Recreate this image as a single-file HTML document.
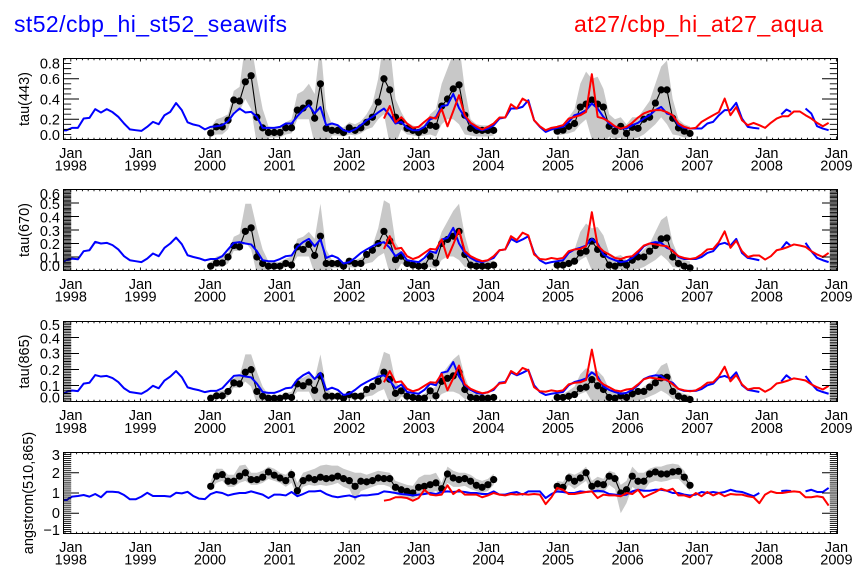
<!DOCTYPE html>
<html><head><meta charset="utf-8">
<style>
html,body{margin:0;padding:0;background:#fff;}
svg{display:block;}
text{font-family:"Liberation Sans",Arial,sans-serif;fill:#000;}
</style></head>
<body>
<svg id="s" width="867" height="580" viewBox="0 0 867 580" xmlns="http://www.w3.org/2000/svg">
<defs>
<clipPath id="c0"><rect x="63.5" y="58.5" width="774" height="81"/></clipPath>
<clipPath id="c1"><rect x="63.5" y="189.5" width="774" height="81"/></clipPath>
<clipPath id="c2"><rect x="63.5" y="321.5" width="774" height="80"/></clipPath>
<clipPath id="c3"><rect x="63.5" y="452.5" width="774" height="81"/></clipPath>
</defs>
<rect width="867" height="580" fill="#fff"/>
<text x="14" y="32" font-size="23" style="fill:#0000ff" textLength="273" lengthAdjust="spacing">st52/cbp_hi_st52_seawifs</text>
<text x="574" y="32" font-size="23" style="fill:#ff0000" textLength="249" lengthAdjust="spacing">at27/cbp_hi_at27_aqua</text>

<g id="plots"></g>

<!-- Y titles -->
<text transform="translate(28.8,99) rotate(-90)" text-anchor="middle" font-size="14.5">tau(443)</text>
<text transform="translate(28.8,230) rotate(-90)" text-anchor="middle" font-size="14.5">tau(670)</text>
<text transform="translate(28.8,361.5) rotate(-90)" text-anchor="middle" font-size="14.5">tau(865)</text>
<text transform="translate(33.2,493) rotate(-90)" text-anchor="middle" font-size="14.5">angstrom(510,865)</text>

<!-- Y tick labels -->
<g font-size="14.5" text-anchor="end">
<text x="60" y="68.4">0.8</text>
<text x="60" y="84.2">0.6</text>
<text x="60" y="104.4">0.4</text>
<text x="60" y="124.3">0.2</text>
<text x="60" y="139.8">0.0</text>

<text x="60" y="199.2">0.6</text>
<text x="60" y="209.2">0.5</text>
<text x="60" y="222.5">0.4</text>
<text x="60" y="235.9">0.3</text>
<text x="60" y="249.2">0.2</text>
<text x="60" y="262.5">0.1</text>
<text x="60" y="271.2">0.0</text>

<text x="60" y="330.2">0.5</text>
<text x="60" y="343.5">0.4</text>
<text x="60" y="358.5">0.3</text>
<text x="60" y="375.2">0.2</text>
<text x="60" y="391.2">0.1</text>
<text x="60" y="402.5">0.0</text>

<text x="60" y="460.2">3</text>
<text x="60" y="477.9">2</text>
<text x="60" y="497.9">1</text>
<text x="60" y="517.9">0</text>
<text x="60" y="535.2">−1</text>
</g>

<!-- X tick labels -->
<g font-size="14.5" text-anchor="middle">
<g>
<text x="70.8" y="157.8">Jan</text><text x="70.8" y="170.5">1998</text>
<text x="140.4" y="157.8">Jan</text><text x="140.4" y="170.5">1999</text>
<text x="210.0" y="157.8">Jan</text><text x="210.0" y="170.5">2000</text>
<text x="279.6" y="157.8">Jan</text><text x="279.6" y="170.5">2001</text>
<text x="349.2" y="157.8">Jan</text><text x="349.2" y="170.5">2002</text>
<text x="418.8" y="157.8">Jan</text><text x="418.8" y="170.5">2003</text>
<text x="488.4" y="157.8">Jan</text><text x="488.4" y="170.5">2004</text>
<text x="558.0" y="157.8">Jan</text><text x="558.0" y="170.5">2005</text>
<text x="627.6" y="157.8">Jan</text><text x="627.6" y="170.5">2006</text>
<text x="697.2" y="157.8">Jan</text><text x="697.2" y="170.5">2007</text>
<text x="766.8" y="157.8">Jan</text><text x="766.8" y="170.5">2008</text>
<text x="836.4" y="157.8">Jan</text><text x="836.4" y="170.5">2009</text>
</g>
<g transform="translate(0,131)">
<text x="70.8" y="157.8">Jan</text><text x="70.8" y="170.5">1998</text>
<text x="140.4" y="157.8">Jan</text><text x="140.4" y="170.5">1999</text>
<text x="210.0" y="157.8">Jan</text><text x="210.0" y="170.5">2000</text>
<text x="279.6" y="157.8">Jan</text><text x="279.6" y="170.5">2001</text>
<text x="349.2" y="157.8">Jan</text><text x="349.2" y="170.5">2002</text>
<text x="418.8" y="157.8">Jan</text><text x="418.8" y="170.5">2003</text>
<text x="488.4" y="157.8">Jan</text><text x="488.4" y="170.5">2004</text>
<text x="558.0" y="157.8">Jan</text><text x="558.0" y="170.5">2005</text>
<text x="627.6" y="157.8">Jan</text><text x="627.6" y="170.5">2006</text>
<text x="697.2" y="157.8">Jan</text><text x="697.2" y="170.5">2007</text>
<text x="766.8" y="157.8">Jan</text><text x="766.8" y="170.5">2008</text>
<text x="836.4" y="157.8">Jan</text><text x="836.4" y="170.5">2009</text>
</g>
<g transform="translate(0,262.3)">
<text x="70.8" y="157.8">Jan</text><text x="70.8" y="170.5">1998</text>
<text x="140.4" y="157.8">Jan</text><text x="140.4" y="170.5">1999</text>
<text x="210.0" y="157.8">Jan</text><text x="210.0" y="170.5">2000</text>
<text x="279.6" y="157.8">Jan</text><text x="279.6" y="170.5">2001</text>
<text x="349.2" y="157.8">Jan</text><text x="349.2" y="170.5">2002</text>
<text x="418.8" y="157.8">Jan</text><text x="418.8" y="170.5">2003</text>
<text x="488.4" y="157.8">Jan</text><text x="488.4" y="170.5">2004</text>
<text x="558.0" y="157.8">Jan</text><text x="558.0" y="170.5">2005</text>
<text x="627.6" y="157.8">Jan</text><text x="627.6" y="170.5">2006</text>
<text x="697.2" y="157.8">Jan</text><text x="697.2" y="170.5">2007</text>
<text x="766.8" y="157.8">Jan</text><text x="766.8" y="170.5">2008</text>
<text x="836.4" y="157.8">Jan</text><text x="836.4" y="170.5">2009</text>
</g>
<g transform="translate(0,394)">
<text x="70.8" y="157.8">Jan</text><text x="70.8" y="170.5">1998</text>
<text x="140.4" y="157.8">Jan</text><text x="140.4" y="170.5">1999</text>
<text x="210.0" y="157.8">Jan</text><text x="210.0" y="170.5">2000</text>
<text x="279.6" y="157.8">Jan</text><text x="279.6" y="170.5">2001</text>
<text x="349.2" y="157.8">Jan</text><text x="349.2" y="170.5">2002</text>
<text x="418.8" y="157.8">Jan</text><text x="418.8" y="170.5">2003</text>
<text x="488.4" y="157.8">Jan</text><text x="488.4" y="170.5">2004</text>
<text x="558.0" y="157.8">Jan</text><text x="558.0" y="170.5">2005</text>
<text x="627.6" y="157.8">Jan</text><text x="627.6" y="170.5">2006</text>
<text x="697.2" y="157.8">Jan</text><text x="697.2" y="170.5">2007</text>
<text x="766.8" y="157.8">Jan</text><text x="766.8" y="170.5">2008</text>
<text x="836.4" y="157.8">Jan</text><text x="836.4" y="170.5">2009</text>
</g>
</g>
</svg>

<script>
(function(){
var NS="http://www.w3.org/2000/svg";
var G=document.getElementById('plots');
var L=63.5,R=837.5;
var panels=[
 {t:58.5,b:139.5,mn:0,mx:0.8,maj:0.2,mi:0.05},
 {t:189.5,b:270.5,mn:0,mx:0.6,maj:0.1,mi:0.01},
 {t:321.5,b:401.5,mn:0,mx:0.5,maj:0.1,mi:0.01},
 {t:452.5,b:533.5,mn:-1,mx:3,maj:1,mi:0.1}];
function X(m){return 72.1+5.775*m;}
function Y(v,P){return P.b-(v-P.mn)/(P.mx-P.mn)*(P.b-P.t);}
function el(tag,a,par){var e=document.createElementNS(NS,tag);for(var k in a)e.setAttribute(k,a[k]);(par||G).appendChild(e);return e;}
function seq(s,arr){return arr.map(function(v,i){return [s+i,v];});}
function sc(arr,f){return arr.map(function(v){return v*f;});}
function scs(ser,f){return ser.map(function(p){return p?[p[0],p[1]*f]:null;});}
function pathD(pts,P){var d='',pen=false;for(var i=0;i<pts.length;i++){var p=pts[i];if(!p){pen=false;continue;}d+=(pen?'L':'M')+X(p[0]).toFixed(2)+' '+Y(p[1],P).toFixed(2);pen=true;}return d;}

var b1=[[-1.5,.09],[-1,.09]].concat(seq(0,[
.115,.115,.207,.213,.30,.266,.30,.27,.224,.158,
.10,.092,.085,.125,.174,.151,.24,.273,.36,.29,
.17,.148,.135,.10,.125,.131,.141,.18,.257,.306,
.267,.273,.223,.115,.115,.115,.125,.158,.158,.23,
.29,.339,.257,.32,.141,.158,.141,.092,.075,.10,
.141,.19,.223,.267,.306,.24,.158,.174,.115,.092,
.092,.125,.2,.22,.33,.34,.45,.31,.22,.158,
.108,.092,.108,.141,.207,.217,.306,.306,.322,.388,
.19,.125,.075,.099,.115,.125,.174,.24,.257,.29,
.356,.306,.223,.158,.125,.108,.108,.141,.165,.207,
.24,.29,.322,.257,.24,.141,.115,.108,.108,.108,
.158,.174,.24,.29,.29,.362,.207,.125,.115,.108]),
[null,[122.8,.247],[123.7,.296],[124.5,.273],null],seq(127,[.306,.257,.131,.108,.092]));
var r1=seq(54,[
.207,.33,.17,.22,.158,.115,.125,.174,.22,.207,
.30,.13,.28,.437,.24,.165,.13,.099,.125,.158,
.217,.217,.348,.306,.404,.37,.19,.13,.092,.115,
.125,.141,.207,.223,.24,.273,.645,.223,.207,.174,
.13,.108,.125,.165,.217,.257,.28,.29,.29,.27,
.24,.158,.125,.108,.115,.174,.207,.24,.27,.404,
.24,.32,.19,.141,.164,.141,.115,.165,.207,.23,
.23,.277,.277,.24,.207,.164,.131,.164]);
var d1a=[.065,.125,.125,.19,.39,.38,.57,.63,.22,.115,
.069,.069,.069,.115,.115,.29,.31,.36,.21,.55,
.11,.09,.09,.069,.115,.09,.115,.17,.22,.37,
.60,.49,.22,.18,.11,.09,.069,.09,.14,.13,
.33,.40,.50,.54,.24,.11,.09,.09,.09,.09];
var d1b=[.082,.092,.13,.158,.32,.35,.39,.35,.32,.13,.082,.13,.06,.12,.11,.2,.22,.36,.49,.49,.21,.115,.082,.06];
var lo1a=[.03,.05,.05,.1,.28,.28,.4,.3,-.05,-.05,
.02,.02,.02,.05,.06,.2,.2,.2,-.05,-.05,
-.05,.04,.04,.03,.05,.04,.06,.1,.12,.2,
.25,-.05,-.05,.1,.05,.04,.03,.04,.05,.03,
.15,.2,.2,.15,.05,.04,.03,.03,.03,.04];
var hi1a=[.12,.2,.22,.25,.48,.52,.95,.95,.6,.3,
.13,.12,.12,.17,.2,.45,.48,.55,.45,.95,
.3,.15,.14,.12,.17,.15,.18,.25,.35,.6,
1.0,.95,.4,.27,.17,.14,.12,.15,.25,.3,
.55,.7,.85,.95,.5,.2,.15,.14,.14,.14];
var lo1b=[.04,.05,.06,.08,.15,.2,0,-.05,-.05,.03,0,.02,-.02,0,.02,.05,.1,.15,.22,.15,.05,.04,.02,.02];
var hi1b=[.14,.15,.22,.3,.55,.67,.6,.62,.5,.25,.2,.22,.15,.22,.22,.3,.38,.55,.72,.78,.4,.2,.15,.13];

var b2=[[-1.5,.064],[-1,.076]].concat(seq(0,[
.088,.083,.143,.15,.212,.2,.205,.188,.156,.106,
.076,.069,.062,.088,.126,.106,.168,.2,.244,.195,
.113,.1,.09,.075,.085,.085,.106,.156,.205,.21,
.2,.193,.143,.076,.069,.069,.085,.106,.111,.175,
.21,.234,.18,.23,.093,.111,.093,.052,.062,.093,
.13,.156,.18,.2,.21,.168,.106,.136,.076,.069,
.062,.093,.143,.13,.23,.241,.316,.2,.13,.093,
.069,.062,.076,.093,.15,.156,.234,.21,.23,.254,
.13,.076,.052,.062,.069,.076,.13,.156,.168,.185,
.234,.2,.119,.093,.076,.062,.069,.093,.13,.18,
.2,.21,.205,.168,.15,.10,.085,.085,.085,.10,
.13,.143,.193,.205,.185,.234,.13,.093,.085,.076]),
[null,[122.8,.16],[123.7,.21],[124.5,.18],null],seq(127,[.205,.143,.093,.076,.062]));
var r2=seq(54,[
.16,.254,.16,.168,.106,.085,.10,.13,.16,.156,
.23,.093,.193,.30,.143,.106,.085,.069,.076,.106,
.15,.156,.254,.225,.28,.26,.119,.085,.081,.093,
.085,.093,.143,.156,.16,.18,.432,.185,.143,.119,
.093,.085,.10,.106,.143,.185,.2,.193,.185,.18,
.143,.106,.093,.085,.093,.119,.156,.16,.21,.29,
.168,.22,.143,.10,.111,.111,.081,.106,.15,.16,
.175,.193,.185,.175,.143,.119,.10,.13]);
var d2a=[.032,.056,.056,.10,.185,.175,.29,.316,.10,.052,
.032,.032,.032,.052,.04,.175,.156,.193,.111,.254,
.052,.052,.052,.032,.069,.052,.052,.119,.15,.2,
.29,.22,.081,.106,.052,.04,.032,.032,.106,.056,
.2,.23,.254,.29,.119,.04,.032,.032,.032,.04];
var d2b=[.04,.04,.052,.069,.13,.143,.217,.156,.119,.04,.032,.056,.04,.076,.10,.10,.143,.185,.234,.241,.10,.052,.032,.02];

var b4=[[-1.5,.62],[-1,.65]].concat(seq(0,[
.82,.85,.9,.82,.95,.79,1.06,1.06,1.04,.9,
.69,.69,.82,1.01,.85,.85,.85,.82,1.01,.98,
1.06,.85,.72,.7,.95,1.05,1.0,.88,.95,1.0,
1.0,1.08,1.0,.92,.75,.92,.92,.88,1.05,.84,
.95,1.08,1.08,1.11,.95,.84,.79,.84,.88,.79,
.88,.88,.92,.95,1.08,1.05,1.0,.95,.92,.88,
.92,.95,1.0,.95,1.05,1.08,1.05,1.08,1.05,1.0,
1.0,.95,.95,1.08,.92,.92,1.0,1.05,.92,1.08,
1.08,1.08,.75,.95,1.08,1.05,1.0,1.0,1.08,1.05,
1.08,1.11,1.08,.95,.92,.88,.92,1.08,1.16,1.11,
1.11,1.16,1.16,1.11,1.0,1.0,.92,.88,.92,1.05,
1.0,1.05,1.0,1.05,1.16,1.08,1.05,.95,.84,1.0]),
[null,[122.8,1.1],[123.7,1.12],[124.5,1.1],null],seq(127,[1.08,1.16,1.05,1.05,1.25]));
var r4=seq(54,[
.62,.67,.79,.79,.75,.62,.75,1.16,.92,.88,
.92,1.38,.95,1.16,.92,.92,.92,.79,.88,1.0,
.92,.88,.95,.92,.95,.92,.95,.92,.45,.79,
1.25,1.16,.95,.95,1.0,1.05,1.08,.75,.92,.88,
.88,.84,1.0,.95,1.16,.79,.92,1.05,1.21,1.11,
1.21,.88,.88,.79,1.0,.84,1.05,.88,1.0,.84,
.95,.92,.92,.84,.79,.5,.92,1.08,1.0,1.0,
1.05,1.08,1.05,.79,.79,.84,.79,.38]);
var d4a=[1.33,1.83,1.91,1.58,1.58,1.83,2.0,1.66,1.66,1.78,
2.04,1.88,1.74,1.61,1.91,1.11,1.61,1.74,1.66,1.78,
1.71,1.74,1.83,1.71,1.61,1.33,1.58,1.55,1.61,1.74,
1.71,1.71,1.28,1.16,1.08,1.0,1.28,1.33,1.41,1.5,
1.21,1.94,1.74,1.66,1.71,1.58,1.38,1.28,1.41,1.66];
var d4b=[1.33,1.28,1.74,1.58,1.74,2.0,1.33,1.45,1.41,1.83,1.71,1.0,1.16,1.83,1.58,1.58,1.94,2.04,1.94,1.94,2.04,2.07,1.78,1.38];
var lo4a=[1.1,1.5,1.6,1.3,1.3,1.5,1.6,1.4,1.4,1.5,
1.7,1.6,1.5,1.3,1.5,0.8,1.3,1.4,1.35,1.4,
1.35,1.4,1.5,1.3,1.2,0.6,1.1,1.2,1.3,1.4,
1.4,1.3,0.95,0.8,0.75,0.7,0.85,0.9,1.0,1.1,
0.9,1.5,1.3,1.3,1.35,1.2,1.1,1.0,1.1,1.4];
var hi4a=[1.6,2.2,2.2,1.9,1.9,2.35,2.4,2.0,2.0,2.1,
2.3,2.2,2.0,1.9,2.2,1.5,2.0,2.1,2.2,2.35,
2.4,2.35,2.35,2.2,2.1,2.0,2.0,1.9,2.0,2.1,
2.05,2.0,1.6,1.5,1.4,1.35,1.75,1.9,1.9,2.0,
1.5,2.3,2.1,2.0,2.0,1.9,1.7,1.6,1.7,1.95];
var lo4b=[1.0,1.0,1.4,1.2,1.4,1.6,1.0,1.0,1.0,1.4,1.2,0.0,0.5,1.3,1.1,1.1,1.5,1.6,1.55,1.6,1.7,1.7,1.4,1.1];
var hi4b=[1.6,1.55,2.0,1.9,2.05,2.3,1.6,1.8,1.7,2.1,2.0,1.4,1.6,2.3,2.0,2.0,2.2,2.3,2.3,2.4,2.45,2.4,2.1,1.6];

var D=[
 {blue:b1,red:r1,da:d1a,db:d1b,loa:lo1a,hia:hi1a,lob:lo1b,hib:hi1b},
 {blue:b2,red:r2,da:d2a,db:d2b,loa:sc(lo1a,.52),hia:sc(hi1a,.52),lob:sc(lo1b,.52),hib:sc(hi1b,.52)},
 {blue:scs(b2,.78),red:scs(r2,.75),da:sc(d2a,.63),db:sc(d2b,.63),loa:sc(lo1a,.31),hia:sc(hi1a,.31),lob:sc(lo1b,.31),hib:sc(hi1b,.31)},
 {blue:b4,red:r4,da:d4a,db:d4b,loa:lo4a,hia:hi4a,lob:lo4b,hib:hi4b}
];

function band(m0,lo,hi,P,g){
  var pts=[];
  for(var i=0;i<hi.length;i++)pts.push(X(m0+i).toFixed(2)+','+Y(hi[i],P).toFixed(2));
  for(var j=lo.length-1;j>=0;j--)pts.push(X(m0+j).toFixed(2)+','+Y(lo[j],P).toFixed(2));
  el('polygon',{points:pts.join(' '),fill:'#c8c8c8',stroke:'none'},g);
}

for(var p=0;p<4;p++){
  var P=panels[p],d=D[p];
  var g=el('g',{'clip-path':'url(#c'+p+')'});
  band(24,d.loa,d.hia,P,g);
  band(84,d.lob,d.hib,P,g);
  var blk=seq(24,d.da).concat([null],seq(84,d.db));
  el('path',{d:pathD(blk,P),fill:'none',stroke:'#000','stroke-width':1.1,'stroke-linejoin':'round'},g);
  var g2=el('g',{});
  blk.forEach(function(q){if(q)el('circle',{cx:X(q[0]).toFixed(2),cy:Y(q[1],P).toFixed(2),r:3.6,fill:'#000'},g2);});
  var g3=el('g',{'clip-path':'url(#c'+p+')'});
  el('path',{d:pathD(d.blue,P),fill:'none',stroke:'#0000ff','stroke-width':2,'stroke-linejoin':'round'},g3);
  el('path',{d:pathD(d.red,P),fill:'none',stroke:'#ff0000','stroke-width':2,'stroke-linejoin':'round'},g3);

  var ax=el('g',{stroke:'#000','stroke-width':1,fill:'none'});
  var n=Math.round((P.mx-P.mn)/P.mi), k=Math.round(P.maj/P.mi), td='';
  for(var i=0;i<=n;i++){
    var v=P.mn+i*P.mi, y=Y(v,P), len=(i%k===0)?15.5:7.7;
    td+='M'+L+' '+y.toFixed(2)+'h'+len+'M'+R+' '+y.toFixed(2)+'h'+(-len);
  }
  for(var m=-1;m<=133;m++){
    var x=70.8+5.8*m; if(x<L||x>R)continue;
    var ln=(m%12===0)?3:1.8;
    td+='M'+x.toFixed(2)+' '+P.b+'v'+(-ln)+'M'+x.toFixed(2)+' '+P.t+'v'+ln;
  }
  el('path',{d:td,'stroke-width':0.9},ax);
  el('rect',{x:L,y:P.t,width:R-L,height:P.b-P.t},ax);
}
})();
</script>
</body></html>
